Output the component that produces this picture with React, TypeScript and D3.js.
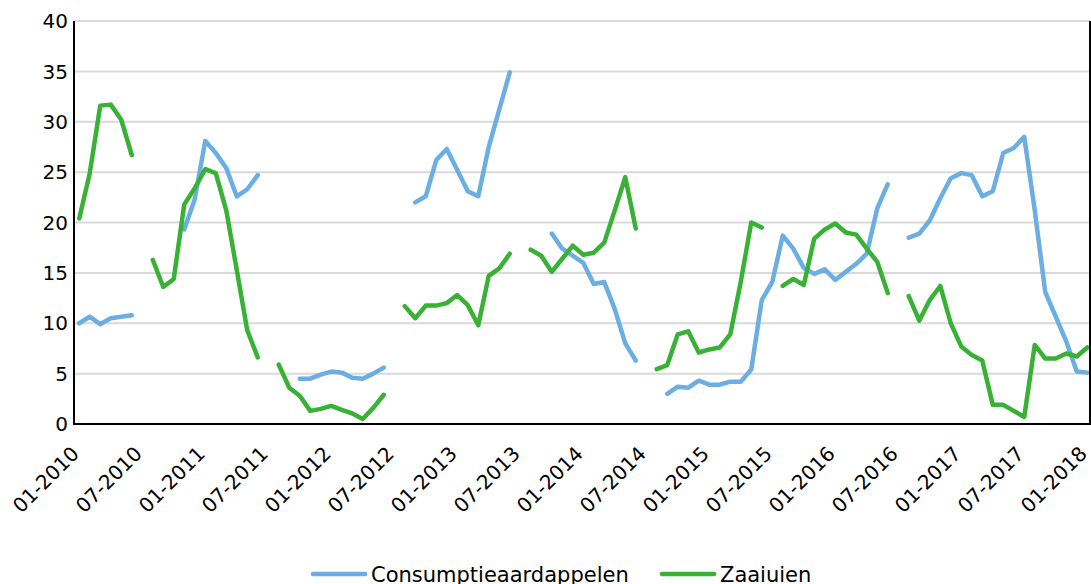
import React from 'react';
import * as d3 from 'd3';

// Monthly values, 01-2010 .. 01-2018 (null = no value)
const consumptieaardappelen: (number | null)[] = [
  10.0, 10.65, 9.9, 10.5, 10.65, 10.8, null, null, null, null, 19.3, 22.3,
  28.1, 26.9, 25.4, 22.6, 23.3, 24.7, null, null, null, 4.5, 4.5, 4.9,
  5.2, 5.1, 4.6, 4.5, 5.0, 5.6, null, null, 22.0, 22.6, 26.2, 27.3,
  25.2, 23.1, 22.6, 27.5, 31.2, 34.9, null, null, null, 18.9, 17.4, 16.7,
  16.0, 13.9, 14.1, 11.4, 8.0, 6.3, null, null, 3.0, 3.7, 3.6, 4.3,
  3.9, 3.9, 4.2, 4.2, 5.4, 12.3, 14.1, 18.7, 17.4, 15.5, 14.9, 15.35,
  14.3, 15.1, 15.9, 16.9, 21.4, 23.8, null, 18.5, 18.9, 20.2, 22.4, 24.4,
  24.9, 24.7, 22.6, 23.1, 26.9, 27.4, 28.5, 21.2, 13.1, 10.65, 8.2, 5.2,
  5.1,
];

const zaaiuien: (number | null)[] = [
  20.4, 24.9, 31.6, 31.7, 30.2, 26.7, null, 16.3, 13.6, 14.4, 21.8, 23.4,
  25.3, 24.9, 21.2, 15.3, 9.3, 6.6, null, 5.9, 3.6, 2.8, 1.3, 1.5,
  1.8, 1.4, 1.05, 0.5, 1.6, 2.9, null, 11.7, 10.5, 11.75, 11.75, 12.0,
  12.8, 11.8, 9.8, 14.7, 15.45, 16.9, null, 17.3, 16.7, 15.1, 16.4, 17.7,
  16.8, 17.0, 18.0, 21.2, 24.5, 19.4, null, 5.45, 5.85, 8.9, 9.2, 7.1,
  7.4, 7.6, 8.9, 14.1, 20.0, 19.5, null, 13.7, 14.4, 13.8, 18.4, 19.3,
  19.9, 19.0, 18.8, 17.4, 16.1, 13.0, null, 12.7, 10.25, 12.3, 13.7, 10.0,
  7.7, 6.85, 6.3, 1.9, 1.9, 1.3, 0.7, 7.85, 6.5, 6.5, 7.0, 6.7,
  7.6,
];

const xTickLabels = [
  '01-2010', '07-2010', '01-2011', '07-2011', '01-2012', '07-2012', '01-2013',
  '07-2013', '01-2014', '07-2014', '01-2015', '07-2015', '01-2016', '07-2016',
  '01-2017', '07-2017', '01-2018',
];

const yTicks = [0, 5, 10, 15, 20, 25, 30, 35, 40];

const seriesNames = ['Consumptieaardappelen', 'Zaaiuien'];
const seriesColors = ['#6aaee4', '#37b234'];

const W = 1091;
const H = 584;
const FONT = '"DejaVu Sans", Verdana, sans-serif';

export default function App() {
  const plotLeft = 74;
  const plotRight = 1090;
  const plotTop = 21;
  const plotBottom = 424;

  const months = d3.range(consumptieaardappelen.length);
  const x = d3
    .scalePoint<number>()
    .domain(months)
    .range([79.25, 1087.25]);
  const y = d3.scaleLinear().domain([0, 40]).range([plotBottom, plotTop]);

  const line = d3
    .line<number | null>()
    .defined((d) => d != null)
    .x((_, i) => x(i) as number)
    .y((d) => y(d as number));

  const series = [consumptieaardappelen, zaaiuien];

  const labelIndex = (lab: string) => {
    const [mm, yy] = lab.split('-').map(Number);
    return (yy - 2010) * 12 + (mm - 1);
  };

  const legendItems = [
    { lineX: 313, textX: 371 },
    { lineX: 662, textX: 720 },
  ];

  return (
    <svg
      width={W}
      height={H}
      style={{ position: 'absolute', left: 0, top: 0, background: '#fff' }}
      fontFamily={FONT}
    >
      <rect x={0} y={0} width={W} height={H} fill="#fff" />
      {/* gridlines */}
      {yTicks
        .filter((t) => t > 0)
        .map((t) => (
          <line
            key={t}
            x1={plotLeft}
            x2={plotRight}
            y1={y(t)}
            y2={y(t)}
            stroke="#d9d9d9"
            strokeWidth={2}
          />
        ))}
      {/* y tick labels */}
      {yTicks.map((t) => (
        <text
          key={t}
          x={68}
          y={y(t)}
          dy="0.36em"
          textAnchor="end"
          fontSize={20}
          fill="#000"
        >
          {t}
        </text>
      ))}
      {/* series */}
      {series.map((s, k) => (
        <path
          key={k}
          d={line(s) || ''}
          fill="none"
          stroke={seriesColors[k]}
          strokeWidth={4.5}
          strokeLinejoin="round"
          strokeLinecap="round"
        />
      ))}
      {/* axes */}
      <line x1={plotLeft} x2={plotLeft} y1={plotTop} y2={plotBottom + 1} stroke="#000" strokeWidth={2} />
      <line x1={plotRight} x2={plotRight} y1={plotTop} y2={plotBottom + 1} stroke="#000" strokeWidth={2} />
      <line x1={plotLeft - 1} x2={plotRight + 1} y1={plotBottom} y2={plotBottom} stroke="#000" strokeWidth={2} />
      {/* x tick labels */}
      {xTickLabels.map((lab) => {
        const px = x(labelIndex(lab)) as number;
        return (
          <text
            key={lab}
            transform={`translate(${px + 1},${plotBottom + 31}) rotate(-45)`}
            textAnchor="end"
            fontSize={20}
            fill="#000"
          >
            {lab}
          </text>
        );
      })}
      {/* legend */}
      {seriesNames.map((name, k) => (
        <g key={name}>
          <line
            x1={legendItems[k].lineX}
            x2={legendItems[k].lineX + 52}
            y1={574}
            y2={574}
            stroke={seriesColors[k]}
            strokeWidth={4.5}
            strokeLinecap="round"
          />
          <text x={legendItems[k].textX} y={574} dy="0.36em" fontSize={21} fill="#000">
            {name}
          </text>
        </g>
      ))}
    </svg>
  );
}
